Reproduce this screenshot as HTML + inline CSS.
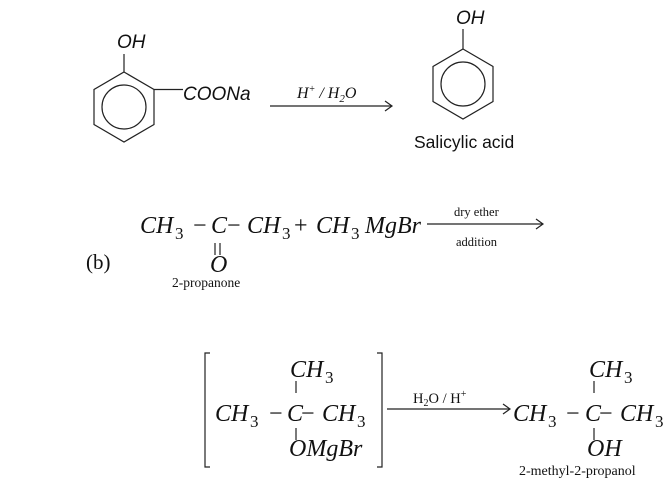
<!DOCTYPE html>
<html><head><style>
html,body{margin:0;padding:0;background:#fff;}
svg{display:block;}
.m{font-family:"Liberation Serif",serif;font-style:italic;font-size:24px;fill:#111;}
.n{font-family:"Liberation Serif",serif;font-size:24px;fill:#111;}
.sb{font-family:"Liberation Serif",serif;font-size:17px;fill:#111;}
.s{font-family:"Liberation Sans",sans-serif;fill:#111;}
.r{font-family:"Liberation Serif",serif;fill:#111;}
</style></head><body>
<svg width="672" height="485" viewBox="0 0 672 485" xmlns="http://www.w3.org/2000/svg">
<g stroke="#222" stroke-width="1.2" fill="none">
<polygon points="124,72 154,89.5 154,124.5 124,142 94,124.5 94,89.5"/>
<circle cx="124" cy="107" r="22"/>
<line x1="124" y1="72" x2="124" y2="54"/>
<line x1="154" y1="89.5" x2="183" y2="89.5"/>
<polygon points="463,49 493,66.5 493,101.5 463,119 433,101.5 433,66.5"/>
<circle cx="463" cy="84" r="22"/>
<line x1="463" y1="49" x2="463" y2="29"/>
<line x1="270" y1="106" x2="391" y2="106"/>
<polyline points="385,101 392,106 385,111"/>
<line x1="215" y1="243" x2="215" y2="255"/>
<line x1="220" y1="243" x2="220" y2="255"/>
<line x1="427" y1="224" x2="542" y2="224"/>
<polyline points="536,219 543,224 536,229"/>
<polyline points="210,353 205,353 205,467 210,467"/>
<polyline points="377,353 382,353 382,467 377,467"/>
<line x1="296" y1="381" x2="296" y2="393"/>
<line x1="296" y1="428" x2="296" y2="440"/>
<line x1="387" y1="409" x2="509" y2="409"/>
<polyline points="503,404 510,409 503,414"/>
<line x1="594" y1="381" x2="594" y2="393"/>
<line x1="594" y1="428" x2="594" y2="440"/>
</g>
<text x="117" y="48" class="s" font-size="19" font-style="italic">OH</text>
<text x="183" y="100" class="s" font-size="19" font-style="italic">COONa</text>
<text x="297" y="98" class="r" font-size="16" font-style="italic">H<tspan font-size="10" dy="-6">+</tspan><tspan dy="6"> / H</tspan><tspan font-size="11" dy="4">2</tspan><tspan dy="-4">O</tspan></text>
<text x="456" y="24" class="s" font-size="19" font-style="italic">OH</text>
<text x="414" y="148" class="s" font-size="17.5">Salicylic acid</text>

<text x="140" y="233" class="m">CH</text><text x="175" y="239" class="sb">3</text>
<text x="193" y="233" class="n">−</text>
<text x="211" y="233" class="m">C</text>
<text x="227" y="233" class="n">−</text>
<text x="247" y="233" class="m">CH</text><text x="282" y="239" class="sb">3</text>
<text x="294" y="233" class="n">+</text>
<text x="316" y="233" class="m">CH</text><text x="351" y="239" class="sb">3</text>
<text x="365" y="233" class="m">MgBr</text>
<text x="86" y="269" class="r" font-size="21">(b)</text>
<text x="210" y="272" class="m">O</text>
<text x="172" y="287" class="r" font-size="13.5">2-propanone</text>
<text x="454" y="216" class="r" font-size="12.5">dry ether</text>
<text x="456" y="246" class="r" font-size="12.5">addition</text>

<text x="290" y="377" class="m">CH</text><text x="325" y="383" class="sb">3</text>
<text x="215" y="421" class="m">CH</text><text x="250" y="427" class="sb">3</text>
<text x="269" y="421" class="n">−</text>
<text x="287" y="421" class="m">C</text>
<text x="301" y="421" class="n">−</text>
<text x="322" y="421" class="m">CH</text><text x="357" y="427" class="sb">3</text>
<text x="289" y="456" class="m">OMgBr</text>
<text x="413" y="403" class="r" font-size="14.5">H<tspan font-size="10" dy="3">2</tspan><tspan dy="-3">O / H</tspan><tspan font-size="10" dy="-6">+</tspan></text>
<text x="513" y="421" class="m">CH</text><text x="548" y="427" class="sb">3</text>
<text x="566" y="421" class="n">−</text>
<text x="585" y="421" class="m">C</text>
<text x="599" y="421" class="n">−</text>
<text x="620" y="421" class="m">CH</text><text x="655" y="427" class="sb">3</text>
<text x="589" y="377" class="m">CH</text><text x="624" y="383" class="sb">3</text>
<text x="587" y="456" class="m">OH</text>
<text x="519" y="475" class="r" font-size="14">2-methyl-2-propanol</text>
</svg>
</body></html>
